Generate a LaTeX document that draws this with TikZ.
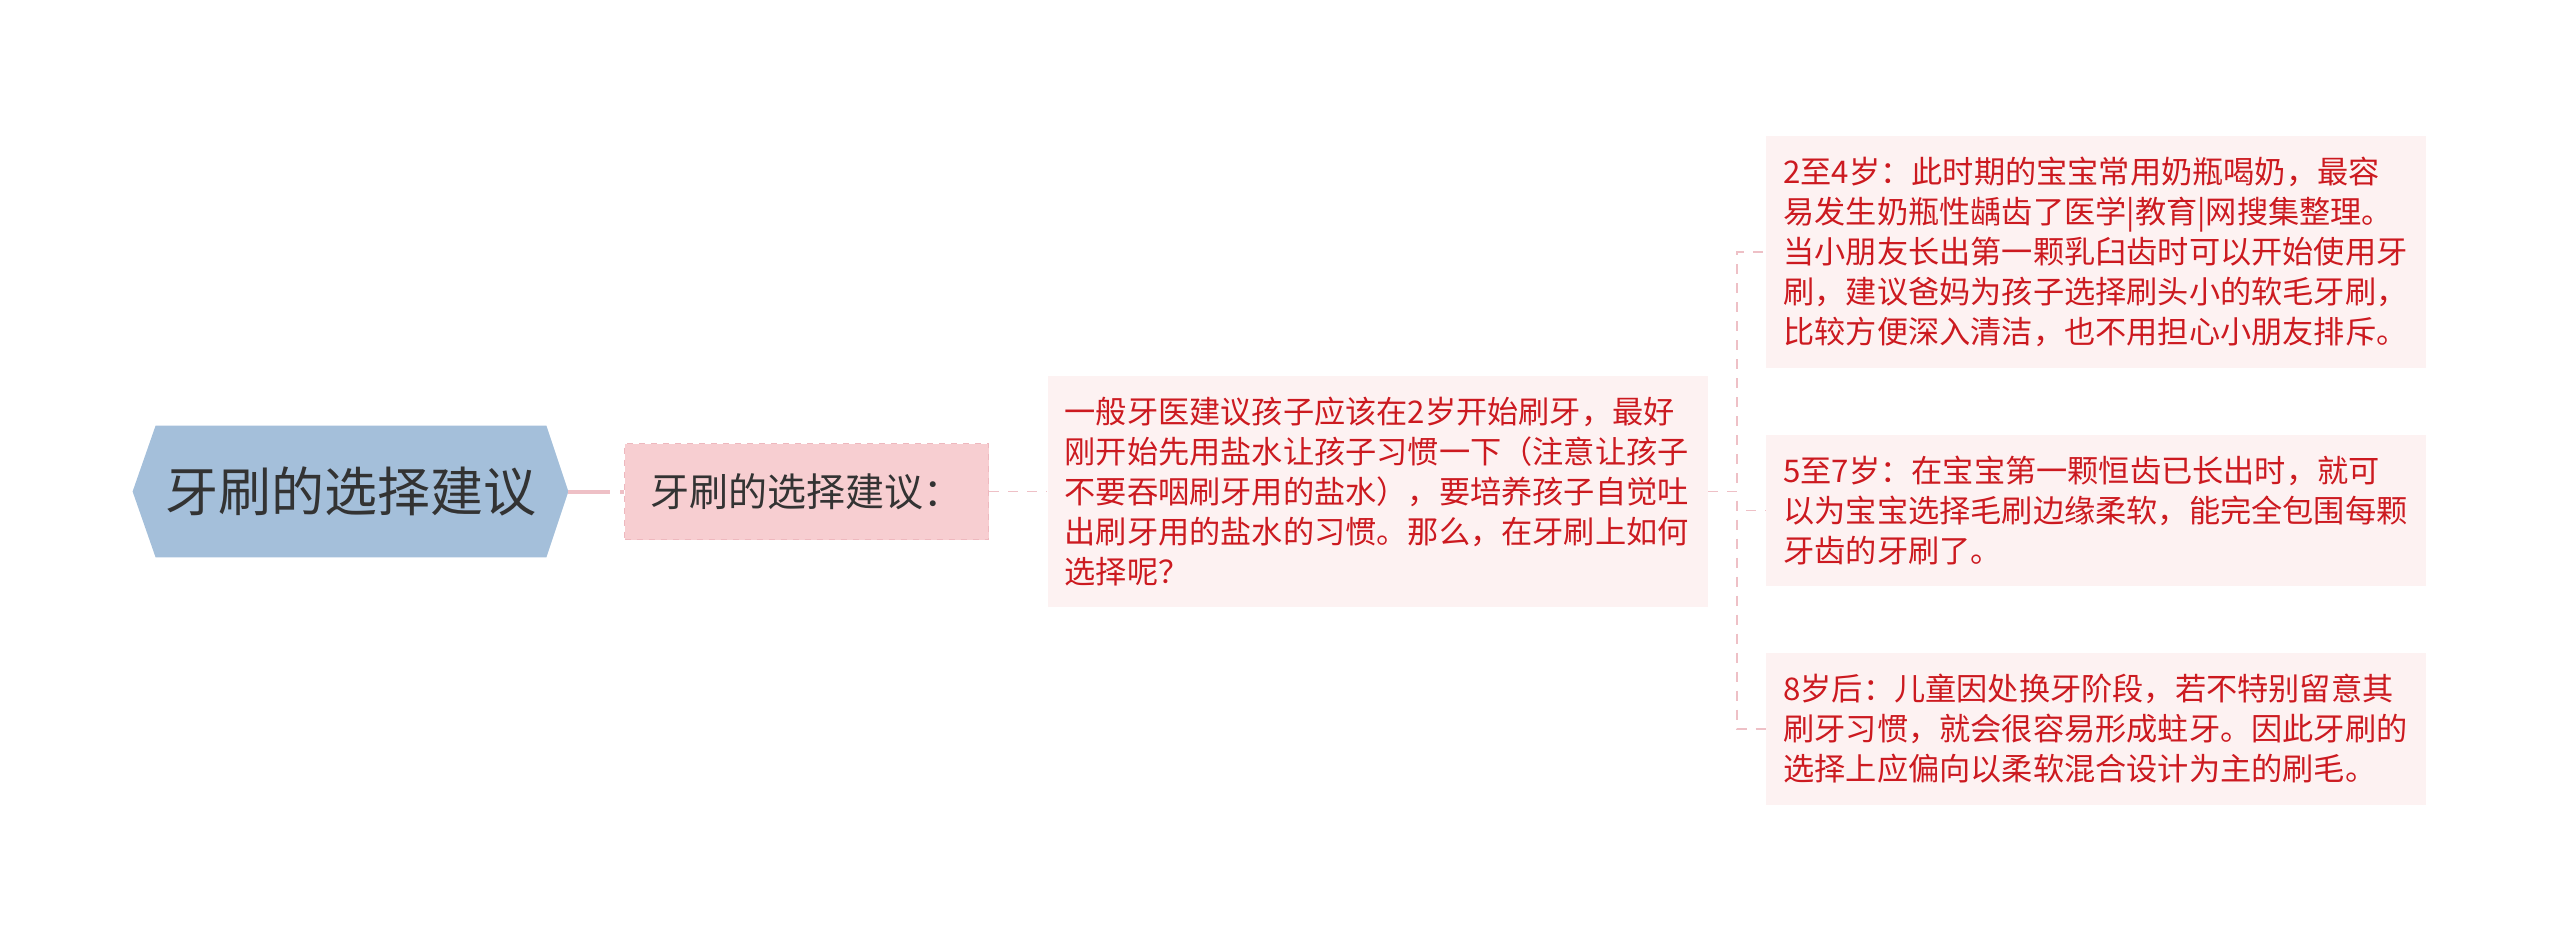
\documentclass[tikz,border=0pt]{standalone}
\usepackage{fontspec}
\setmainfont{Noto Sans CJK SC}
\usetikzlibrary{positioning,backgrounds}
\definecolor{rootblue}{RGB}{164,191,218}
\definecolor{subpink}{RGB}{247,206,209}
\definecolor{subedge}{RGB}{238,184,190}
\definecolor{leafpink}{RGB}{253,242,242}
\definecolor{linkpink}{RGB}{238,192,198}
\definecolor{txtred}{RGB}{204,26,32}
\definecolor{txtgray}{RGB}{51,51,51}
\begin{document}
\begin{tikzpicture}[x=0.5pt,y=-0.5pt,
  rootnode/.style={minimum width=217.5pt,minimum height=65.5pt,inner sep=0pt,text=txtgray,font=\fontsize{26.5pt}{32pt}\selectfont},
  subnode/.style={draw=subedge,dashed,fill=subpink,minimum width=182pt,minimum height=48pt,text=txtgray,font=\fontsize{19.5pt}{24pt}\selectfont},
  leafnode/.style={fill=leafpink,text width=313pt,inner xsep=8.5pt,inner ysep=10.6pt,align=left,text=txtred,font=\fontsize{15.6pt}{20pt}\selectfont},
  rootlink/.style={linkpink,line width=2pt,dash pattern=on 21pt off 5pt},
  sublink/.style={linkpink,line width=0.8pt,dash pattern=on 5pt off 4.5pt}]
\useasboundingbox (0,0) rectangle (2560,943);

\node[rootnode] (root) at (350.5,491.5) {牙刷的选择建议};
\begin{scope}[on background layer]
\fill[rootblue] (root.west) -- ([xshift=11.5pt]root.north west) -- ([xshift=-11pt]root.north east) -- (root.east) -- ([xshift=-11pt]root.south east) -- ([xshift=11.5pt]root.south west) -- cycle;
\end{scope}

\node[subnode] (advice) [right=28pt of root] {牙刷的选择建议：};

\node[leafnode] (intro) [right=29pt of advice] {一般牙医建议孩子应该在2岁开始刷牙，最好\\刚开始先用盐水让孩子习惯一下（注意让孩子\\不要吞咽刷牙用的盐水），要培养孩子自觉吐\\出刷牙用的盐水的习惯。那么，在牙刷上如何\\选择呢？};

\node[leafnode] (age5) [right=29pt of intro, yshift=-9.5pt] {5至7岁：在宝宝第一颗恒齿已长出时，就可\\以为宝宝选择毛刷边缘柔软，能完全包围每颗\\牙齿的牙刷了。};
\node[leafnode] (age2) [above=33pt of age5] {2至4岁：此时期的宝宝常用奶瓶喝奶，最容\\易发生奶瓶性龋齿了医学|教育|网搜集整理。\\当小朋友长出第一颗乳臼齿时可以开始使用牙\\刷，建议爸妈为孩子选择刷头小的软毛牙刷，\\比较方便深入清洁，也不用担心小朋友排斥。};
\node[leafnode] (age8) [below=33pt of age5] {8岁后：儿童因处换牙阶段，若不特别留意其\\刷牙习惯，就会很容易形成蛀牙。因此牙刷的\\选择上应偏向以柔软混合设计为主的刷毛。};

\draw[rootlink] (root.east) -- (advice.west);
\draw[sublink] (advice.east) -- (intro.west);
\foreach \leaf in {age2,age5,age8}
  \draw[sublink] (intro.east) -- ++(14.5pt,0) |- (\leaf.west);

\end{tikzpicture}
\end{document}
